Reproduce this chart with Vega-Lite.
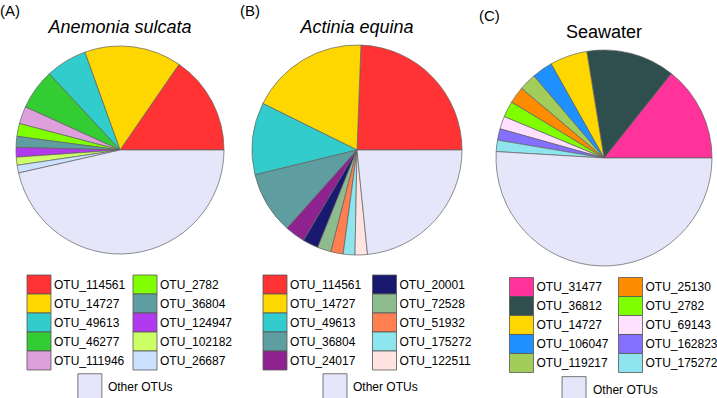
{
  "$schema": "https://vega.github.io/schema/vega-lite/v6.json",
  "padding": {"top": 4, "left": 0, "right": 0, "bottom": 0},
  "background": "white",
  "config": {
    "view": {"stroke": null},
    "font": "Liberation Sans",
    "title": {"font": "Liberation Sans", "fontWeight": "normal", "color": "black"},
    "text": {"font": "Liberation Sans", "fontSize": 12, "color": "black"}
  },
  "datasets": {
    "A": [
      {"otu": "OTU_114561", "pct": 15.4},
      {"otu": "OTU_14727", "pct": 15.1},
      {"otu": "OTU_49613", "pct": 6.4},
      {"otu": "OTU_46277", "pct": 6.3},
      {"otu": "OTU_111946", "pct": 2.7},
      {"otu": "OTU_2782", "pct": 2.0},
      {"otu": "OTU_36804", "pct": 1.7},
      {"otu": "OTU_124947", "pct": 1.5},
      {"otu": "OTU_102182", "pct": 1.25},
      {"otu": "OTU_26687", "pct": 1.2},
      {"otu": "Other OTUs", "pct": 46.45}
    ],
    "B": [
      {"otu": "OTU_114561", "pct": 24.4},
      {"otu": "OTU_14727", "pct": 18.3},
      {"otu": "OTU_49613", "pct": 11.1},
      {"otu": "OTU_36804", "pct": 9.6},
      {"otu": "OTU_24017", "pct": 3.1},
      {"otu": "OTU_20001", "pct": 2.4},
      {"otu": "OTU_72528", "pct": 2.1},
      {"otu": "OTU_51932", "pct": 1.9},
      {"otu": "OTU_175272", "pct": 1.8},
      {"otu": "OTU_122511", "pct": 1.9},
      {"otu": "Other OTUs", "pct": 23.4}
    ],
    "C": [
      {"otu": "OTU_31477", "pct": 14.3},
      {"otu": "OTU_36812", "pct": 13.25},
      {"otu": "OTU_14727", "pct": 5.6},
      {"otu": "OTU_106047", "pct": 3.1},
      {"otu": "OTU_119217", "pct": 2.6},
      {"otu": "OTU_25130", "pct": 2.5},
      {"otu": "OTU_2782", "pct": 2.4},
      {"otu": "OTU_69143", "pct": 1.9},
      {"otu": "OTU_162823", "pct": 1.7},
      {"otu": "OTU_175272", "pct": 1.7},
      {"otu": "Other OTUs", "pct": 50.95}
    ]
  },
  "resolve": {"scale": {"color": "independent", "x": "independent", "y": "independent", "theta": "independent"}},
  "spacing": 0,
  "hconcat": [
    {
      "title": {"text": "(A)", "anchor": "start", "fontSize": 15, "offset": 0},
      "spacing": 0,
      "vconcat": [
        {
          "width": 240, "height": 214,
          "data": {"name": "A"},
          "title": {"text": "Anemonia sulcata", "fontStyle": "italic", "fontSize": 18, "offset": 6},
          "transform": [{"window": [{"op": "row_number", "as": "idx"}]}],
          "mark": {"type": "arc", "radius": 104, "stroke": "#606060", "strokeWidth": 0.7},
          "encoding": {
            "theta": {"field": "pct", "type": "quantitative", "stack": true, "scale": {"range": [1.5708, -4.7124]}},
            "order": {"field": "idx", "type": "quantitative"},
            "color": {"field": "otu", "type": "nominal", "legend": null,
              "scale": {"domain": ["OTU_114561","OTU_14727","OTU_49613","OTU_46277","OTU_111946","OTU_2782","OTU_36804","OTU_124947","OTU_102182","OTU_26687","Other OTUs"],
                        "range": ["#FF3333","#FFD700","#33CCCC","#33CC33","#DDA0DD","#7FFF00","#5F9EA0","#B23AEE","#CCFF66","#CAE1FF","#E6E6FA"]}}
          }
        },
        {
          "width": 240, "height": 136,
          "data": {"name": "A"},
          "transform": [{"window": [{"op": "row_number", "as": "idx"}]}],
          "layer": [
            {
              "transform": [{"filter": "datum.otu != 'Other OTUs'"}, {"calculate": "floor((datum.idx-1)/5)", "as": "col"}, {"calculate": "(datum.idx-1)%5", "as": "row"}],
              "layer": [
                {
                  "mark": {"type": "point", "shape": "M-1,-0.79H1V0.79H-1Z", "size": 576, "filled": true, "opacity": 1, "stroke": "#555555", "strokeWidth": 0.8},
                  "encoding": {
                    "x": {"field": "col", "type": "quantitative", "axis": null, "scale": {"domain": [0, 1], "range": [39, 145]}},
                    "y": {"field": "row", "type": "quantitative", "axis": null, "scale": {"domain": [0, 5], "range": [27.5, 122.5]}},
                    "color": {"field": "otu", "type": "nominal", "legend": null,
                      "scale": {"domain": ["OTU_114561","OTU_14727","OTU_49613","OTU_46277","OTU_111946","OTU_2782","OTU_36804","OTU_124947","OTU_102182","OTU_26687","Other OTUs"],
                                "range": ["#FF3333","#FFD700","#33CCCC","#33CC33","#DDA0DD","#7FFF00","#5F9EA0","#B23AEE","#CCFF66","#CAE1FF","#E6E6FA"]}}
                  }
                },
                {
                  "mark": {"type": "text", "align": "left", "baseline": "middle", "dx": 15, "fontSize": 12},
                  "encoding": {
                    "x": {"field": "col", "type": "quantitative"},
                    "y": {"field": "row", "type": "quantitative"},
                    "text": {"field": "otu"}
                  }
                }
              ]
            },
            {
              "transform": [{"filter": "datum.otu == 'Other OTUs'"}],
              "layer": [
                {
                  "mark": {"type": "point", "shape": "M-1,-1.08H1V1.08H-1Z", "size": 576, "filled": true, "opacity": 1, "stroke": "#555555", "strokeWidth": 0.8},
                  "encoding": {
                    "x": {"datum": 0.48, "type": "quantitative"},
                    "y": {"datum": 5.38, "type": "quantitative"},
                    "color": {"field": "otu", "type": "nominal", "legend": null}
                  }
                },
                {
                  "mark": {"type": "text", "align": "left", "baseline": "middle", "dx": 18, "fontSize": 12},
                  "encoding": {
                    "x": {"datum": 0.48, "type": "quantitative"},
                    "y": {"datum": 5.38, "type": "quantitative"},
                    "text": {"field": "otu"}
                  }
                }
              ]
            }
          ]
        }
      ]
    },
    {
      "spacing": 5,
      "resolve": {"scale": {"color": "independent", "x": "independent", "y": "independent", "theta": "independent"}},
      "hconcat": [
        {
          "title": {"text": "(B)", "anchor": "start", "fontSize": 15, "offset": 0},
          "spacing": 0,
          "vconcat": [
            {
              "width": 234, "height": 214,
              "data": {"name": "B"},
              "title": {"text": "Actinia equina", "fontStyle": "italic", "fontSize": 18, "offset": 6},
              "transform": [{"window": [{"op": "row_number", "as": "idx"}]}],
              "mark": {"type": "arc", "radius": 105, "stroke": "#606060", "strokeWidth": 0.7},
              "encoding": {
                "theta": {"field": "pct", "type": "quantitative", "stack": true, "scale": {"range": [1.5708, -4.7124]}},
                "order": {"field": "idx", "type": "quantitative"},
                "color": {"field": "otu", "type": "nominal", "legend": null,
                  "scale": {"domain": ["OTU_114561","OTU_14727","OTU_49613","OTU_36804","OTU_24017","OTU_20001","OTU_72528","OTU_51932","OTU_175272","OTU_122511","Other OTUs"],
                            "range": ["#FF3333","#FFD700","#33CCCC","#5F9EA0","#8E2390","#191970","#8FBC8F","#FF7F50","#8EE5EE","#FFE4E1","#E6E6FA"]}}
              }
            },
            {
              "width": 234, "height": 136,
              "data": {"name": "B"},
              "transform": [{"window": [{"op": "row_number", "as": "idx"}]}],
              "layer": [
                {
                  "transform": [{"filter": "datum.otu != 'Other OTUs'"}, {"calculate": "floor((datum.idx-1)/5)", "as": "col"}, {"calculate": "(datum.idx-1)%5", "as": "row"}],
                  "layer": [
                    {
                      "mark": {"type": "point", "shape": "M-1,-0.79H1V0.79H-1Z", "size": 576, "filled": true, "opacity": 1, "stroke": "#555555", "strokeWidth": 0.8},
                      "encoding": {
                        "x": {"field": "col", "type": "quantitative", "axis": null, "scale": {"domain": [0, 1], "range": [35, 144.5]}},
                        "y": {"field": "row", "type": "quantitative", "axis": null, "scale": {"domain": [0, 5], "range": [27.5, 122.5]}},
                        "color": {"field": "otu", "type": "nominal", "legend": null,
                          "scale": {"domain": ["OTU_114561","OTU_14727","OTU_49613","OTU_36804","OTU_24017","OTU_20001","OTU_72528","OTU_51932","OTU_175272","OTU_122511","Other OTUs"],
                                    "range": ["#FF3333","#FFD700","#33CCCC","#5F9EA0","#8E2390","#191970","#8FBC8F","#FF7F50","#8EE5EE","#FFE4E1","#E6E6FA"]}}
                      }
                    },
                    {
                      "mark": {"type": "text", "align": "left", "baseline": "middle", "dx": 15, "fontSize": 12},
                      "encoding": {
                        "x": {"field": "col", "type": "quantitative"},
                        "y": {"field": "row", "type": "quantitative"},
                        "text": {"field": "otu"}
                      }
                    }
                  ]
                },
                {
                  "transform": [{"filter": "datum.otu == 'Other OTUs'"}],
                  "layer": [
                    {
                      "mark": {"type": "point", "shape": "M-1,-1.08H1V1.08H-1Z", "size": 576, "filled": true, "opacity": 1, "stroke": "#555555", "strokeWidth": 0.8},
                      "encoding": {
                        "x": {"datum": 0.548, "type": "quantitative"},
                        "y": {"datum": 5.38, "type": "quantitative"},
                        "color": {"field": "otu", "type": "nominal", "legend": null}
                      }
                    },
                    {
                      "mark": {"type": "text", "align": "left", "baseline": "middle", "dx": 18, "fontSize": 12},
                      "encoding": {
                        "x": {"datum": 0.548, "type": "quantitative"},
                        "y": {"datum": 5.38, "type": "quantitative"},
                        "text": {"field": "otu"}
                      }
                    }
                  ]
                }
              ]
            }
          ]
        },
        {
          "title": {"text": "(C)", "anchor": "start", "fontSize": 15, "dx": -10, "offset": 0},
          "spacing": 0,
          "vconcat": [
            {
              "width": 230, "height": 230,
              "data": {"name": "C"},
              "title": {"text": "Seawater", "fontSize": 18, "offset": 1},
              "transform": [{"window": [{"op": "row_number", "as": "idx"}]}],
              "mark": {"type": "arc", "radius": 108, "stroke": "#606060", "strokeWidth": 0.7},
              "encoding": {
                "theta": {"field": "pct", "type": "quantitative", "stack": true, "scale": {"range": [1.5708, -4.7124]}},
                "order": {"field": "idx", "type": "quantitative"},
                "color": {"field": "otu", "type": "nominal", "legend": null,
                  "scale": {"domain": ["OTU_31477","OTU_36812","OTU_14727","OTU_106047","OTU_119217","OTU_25130","OTU_2782","OTU_69143","OTU_162823","OTU_175272","Other OTUs"],
                            "range": ["#FF3399","#2F4F4F","#FFD700","#1E90FF","#A2CD5A","#FF8C00","#7FFF00","#FFE1FF","#8470FF","#8EE5EE","#E6E6FA"]}}
              }
            },
            {
              "width": 230, "height": 122,
              "data": {"name": "C"},
              "transform": [{"window": [{"op": "row_number", "as": "idx"}]}],
              "layer": [
                {
                  "transform": [{"filter": "datum.otu != 'Other OTUs'"}, {"calculate": "floor((datum.idx-1)/5)", "as": "col"}, {"calculate": "(datum.idx-1)%5", "as": "row"}],
                  "layer": [
                    {
                      "mark": {"type": "point", "shape": "M-1,-0.79H1V0.79H-1Z", "size": 576, "filled": true, "opacity": 1, "stroke": "#555555", "strokeWidth": 0.8},
                      "encoding": {
                        "x": {"field": "col", "type": "quantitative", "axis": null, "scale": {"domain": [0, 1], "range": [32.5, 141.5]}},
                        "y": {"field": "row", "type": "quantitative", "axis": null, "scale": {"domain": [0, 5], "range": [14, 109]}},
                        "color": {"field": "otu", "type": "nominal", "legend": null,
                          "scale": {"domain": ["OTU_31477","OTU_36812","OTU_14727","OTU_106047","OTU_119217","OTU_25130","OTU_2782","OTU_69143","OTU_162823","OTU_175272","Other OTUs"],
                                    "range": ["#FF3399","#2F4F4F","#FFD700","#1E90FF","#A2CD5A","#FF8C00","#7FFF00","#FFE1FF","#8470FF","#8EE5EE","#E6E6FA"]}}
                      }
                    },
                    {
                      "mark": {"type": "text", "align": "left", "baseline": "middle", "dx": 15, "fontSize": 12},
                      "encoding": {
                        "x": {"field": "col", "type": "quantitative"},
                        "y": {"field": "row", "type": "quantitative"},
                        "text": {"field": "otu"}
                      }
                    }
                  ]
                },
                {
                  "transform": [{"filter": "datum.otu == 'Other OTUs'"}],
                  "layer": [
                    {
                      "mark": {"type": "point", "shape": "M-1,-1.08H1V1.08H-1Z", "size": 576, "filled": true, "opacity": 1, "stroke": "#555555", "strokeWidth": 0.8},
                      "encoding": {
                        "x": {"datum": 0.482, "type": "quantitative"},
                        "y": {"datum": 5.4, "type": "quantitative"},
                        "color": {"field": "otu", "type": "nominal", "legend": null}
                      }
                    },
                    {
                      "mark": {"type": "text", "align": "left", "baseline": "middle", "dx": 19, "fontSize": 12},
                      "encoding": {
                        "x": {"datum": 0.482, "type": "quantitative"},
                        "y": {"datum": 5.4, "type": "quantitative"},
                        "text": {"field": "otu"}
                      }
                    }
                  ]
                }
              ]
            }
          ]
        }
      ]
    }
  ]
}
